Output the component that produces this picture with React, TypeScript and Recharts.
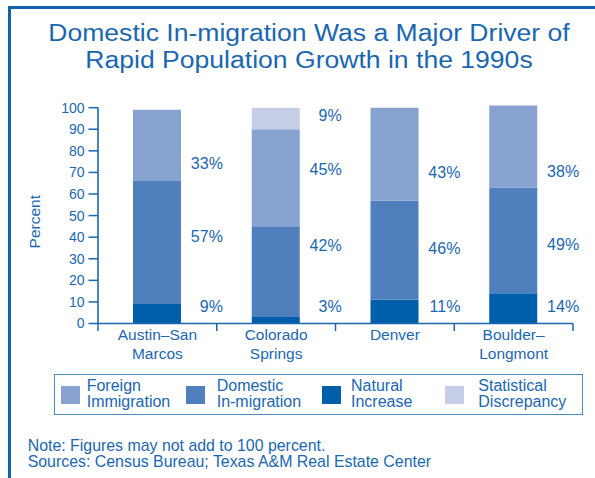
import React from 'react';
import { BarChart, Bar, XAxis, YAxis, ReferenceDot } from 'recharts';

// ---------- data ----------
const categories = ['Austin–San Marcos', 'Colorado Springs', 'Denver', 'Boulder–Longmont'];
const categoryLines = [['Austin–San', 'Marcos'], ['Colorado', 'Springs'], ['Denver'], ['Boulder–', 'Longmont']];
const naturalIncrease = [9, 3, 11, 14];
const domesticInmigration = [57, 42, 46, 49];
const foreignImmigration = [33, 45, 43, 38];
const statisticalDiscrepancy = [0, 10, 0, 0];
const yTicks = [0, 10, 20, 30, 40, 50, 60, 70, 80, 90, 100];
const yDomainMax = 101;
// value labels shown beside each bar, and the level (in percent units) they sit at
const labelTexts = [
  ['9%', '57%', '33%'],
  ['3%', '42%', '45%', '9%'],
  ['11%', '46%', '43%'],
  ['14%', '49%', '38%'],
];
const labelLevels = [
  [8, 40.5, 74.4],
  [8, 36.2, 71.4, 96.5],
  [8, 35, 70.2],
  [8, 36.6, 70.6],
];
const seriesKeys = ['natural', 'domestic', 'foreign', 'discrepancy'];
const seriesNames = ['Natural Increase', 'Domestic In-migration', 'Foreign Immigration', 'Statistical Discrepancy'];
const seriesColors = ['#005fab', '#4f80bd', '#88a3cf', '#c5cee6'];
const legendOrder = [2, 1, 0, 3];
const legendLines = [['Natural', 'Increase'], ['Domestic', 'In-migration'], ['Foreign', 'Immigration'], ['Statistical', 'Discrepancy']];
const titleLines = ['Domestic In-migration Was a Major Driver of', 'Rapid Population Growth in the 1990s'];
const noteLines = ['Note: Figures may not add to 100 percent.', 'Sources: Census Bureau; Texas A&M Real Estate Center'];

const data = categories.map((c, i) => ({
  name: c,
  natural: naturalIncrease[i],
  domestic: domesticInmigration[i],
  foreign: foreignImmigration[i],
  discrepancy: statisticalDiscrepancy[i],
}));

// ---------- style / layout ----------
const BLUE = '#1a67b1';
const FONT = '"Liberation Sans", Arial, Helvetica, sans-serif';
const W = 595;
const H = 478;
const MARGIN = { top: 105.5, right: 22, bottom: 104.5, left: 38 };
const Y_AXIS_W = 60;
const X_AXIS_H = 50;
const Y_TICK_SIZE = 9.5;
const Y_TICK_MARGIN = 4;
const PLOT_W = W - MARGIN.left - MARGIN.right - Y_AXIS_W;
const PLOT_H = H - MARGIN.top - MARGIN.bottom - X_AXIS_H;
const LEGEND_SWATCH_X = [61, 186, 321.7, 445];
const LEGEND_TEXT_X = [86.7, 216.7, 351, 478.3];

const XTick = (props: any) => {
  const { x, y, payload } = props;
  const idx = categories.indexOf(payload?.value);
  const lines = idx >= 0 ? categoryLines[idx] : [String(payload?.value)];
  const half = typeof payload?.offset === 'number' && payload.offset > 5 ? payload.offset : PLOT_W / categories.length / 2;
  return (
    <g>
      <line x1={x - half} x2={x - half} y1={y} y2={y + 7.5} stroke={BLUE} strokeWidth={1.5} />
      {idx === categories.length - 1 && (
        <line x1={x + half} x2={x + half} y1={y} y2={y + 7.5} stroke={BLUE} strokeWidth={1.5} />
      )}
      {lines.map((l, i) => (
        <text key={i} x={x} y={y + 16.5 + i * 18.5} textAnchor="middle" fill={BLUE} fontSize={15.5} fontFamily={FONT}>
          {l}
        </text>
      ))}
    </g>
  );
};

// y tick label; the bottom tick also draws the axis line up to the last tick value
const YTick = (props: any) => {
  const { x, y, payload } = props;
  const axisX = x + Y_TICK_SIZE + Y_TICK_MARGIN;
  const top = yTicks[yTicks.length - 1];
  return (
    <g>
      {payload?.value === yTicks[0] && (
        <line
          x1={axisX}
          x2={axisX}
          y1={y}
          y2={y - (top / yDomainMax) * PLOT_H}
          stroke={BLUE}
          strokeWidth={1.6}
        />
      )}
      <text x={x} y={y} dy="0.355em" textAnchor="end" fill={BLUE} fontSize={14} fontFamily={FONT}>
        {payload?.value}
      </text>
    </g>
  );
};

const makeLabelShape = (text: string) => (p: any) => (
  <text x={p.cx + 65.5} y={p.cy} dy="0.355em" textAnchor="end" fill={BLUE} fontSize={16} fontFamily={FONT}>
    {text}
  </text>
);

export default function App() {
  return (
    <div
      style={{
        position: 'absolute',
        left: 0,
        top: 0,
        width: W,
        height: H,
        overflow: 'hidden',
        background: '#fff',
        fontFamily: FONT,
        color: BLUE,
      }}
    >
      {/* frame */}
      <div
        style={{
          position: 'absolute',
          left: 8,
          top: 5.5,
          width: 700,
          height: 600,
          borderLeft: '3px solid #1263ae',
          borderTop: '3px solid #1263ae',
        }}
      />
      {/* title */}
      <div
        style={{
          position: 'absolute',
          left: 0,
          top: 20.3,
          width: 618,
          textAlign: 'center',
          fontSize: 23.3,
          lineHeight: '26.6px',
          transform: 'scaleX(1.14)',
          transformOrigin: 'center',
          whiteSpace: 'nowrap',
          zIndex: 2,
        }}
      >
        {titleLines.map((t, i) => (
          <div key={i}>{t}</div>
        ))}
      </div>

      <div style={{ position: 'absolute', left: 0, top: 0 }}>
        <BarChart width={W} height={H} data={data} margin={MARGIN} barSize={48}>
          <XAxis
            dataKey="name"
            height={X_AXIS_H}
            interval={0}
            tickLine={false}
            tickSize={0}
            tickMargin={0}
            axisLine={{ stroke: BLUE, strokeWidth: 1.6 }}
            tick={<XTick />}
          />
          <YAxis
            width={Y_AXIS_W}
            domain={[0, yDomainMax]}
            ticks={yTicks}
            interval={0}
            tickSize={Y_TICK_SIZE}
            tickMargin={Y_TICK_MARGIN}
            axisLine={false}
            tickLine={{ stroke: BLUE, strokeWidth: 1.5 }}
            tick={<YTick />}
            label={{
              content: () => (
                <text
                  x={40}
                  y={221.7}
                  transform="rotate(-90, 40, 221.7)"
                  textAnchor="middle"
                  fill={BLUE}
                  fontSize={15.5}
                  fontFamily={FONT}
                >
                  Percent
                </text>
              ),
            }}
          />
          {seriesKeys.map((k, i) => (
            <Bar
              key={k}
              dataKey={k}
              name={seriesNames[i]}
              stackId="a"
              fill={seriesColors[i]}
              isAnimationActive={false}
            />
          ))}
          {categories.map((c, ci) =>
            labelTexts[ci].map((t, li) => (
              <ReferenceDot
                key={`${ci}-${li}`}
                x={c}
                y={labelLevels[ci][li]}
                r={1}
                fill="none"
                stroke="none"
                ifOverflow="visible"
                shape={makeLabelShape(t)}
              />
            ))
          )}
        </BarChart>
      </div>

      {/* legend */}
      <div
        style={{
          position: 'absolute',
          left: 54.3,
          top: 374.3,
          width: 529,
          height: 40.7,
          boxSizing: 'border-box',
          border: '1.5px solid #4d8ac8',
        }}
      />
      {legendOrder.map((si, i) => (
        <React.Fragment key={si}>
          <div
            style={{
              position: 'absolute',
              left: LEGEND_SWATCH_X[i],
              top: 386,
              width: 19.3,
              height: 18.3,
              background: seriesColors[si],
            }}
          />
          <div
            style={{
              position: 'absolute',
              left: LEGEND_TEXT_X[i],
              top: 378.4,
              fontSize: 16,
              lineHeight: '15.6px',
              whiteSpace: 'nowrap',
            }}
          >
            {legendLines[si].map((l, j) => (
              <div key={j}>{l}</div>
            ))}
          </div>
        </React.Fragment>
      ))}

      {/* notes */}
      <div
        style={{
          position: 'absolute',
          left: 27.7,
          top: 438.1,
          fontSize: 15.9,
          lineHeight: '16px',
          whiteSpace: 'nowrap',
        }}
      >
        {noteLines.map((l, i) => (
          <div key={i}>{l}</div>
        ))}
      </div>
    </div>
  );
}
